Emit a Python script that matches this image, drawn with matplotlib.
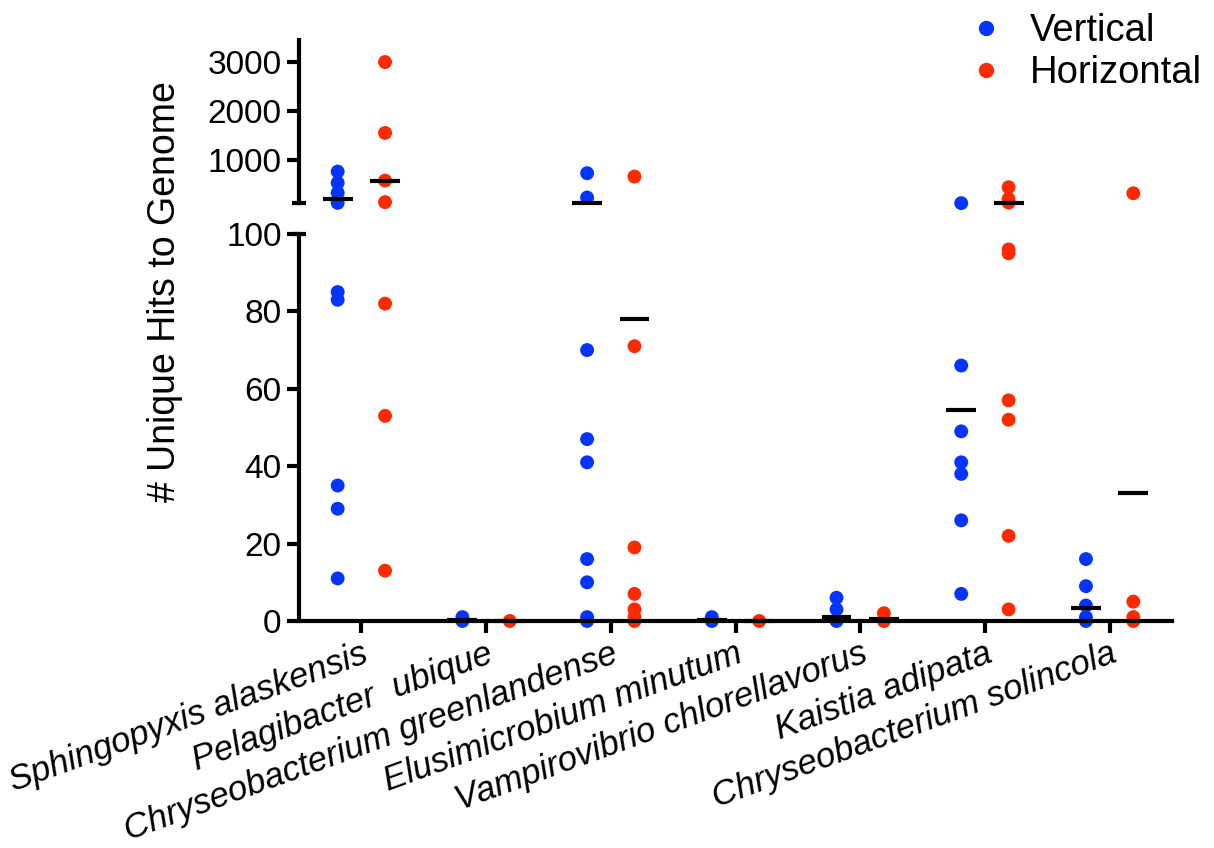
import matplotlib.pyplot as plt
from matplotlib.lines import Line2D

plt.rcParams['font.family'] = ['Liberation Sans', 'DejaVu Sans']

# data
categories = ['Sphingopyxis alaskensis', 'Pelagibacter  ubique', 'Chryseobacterium greenlandense',
              'Elusimicrobium minutum', 'Vampirovibrio chlorellavorus', 'Kaistia adipata',
              'Chryseobacterium solincola']

vertical = [
    [760, 530, 325, 120, 85, 83, 35, 29, 11],
    [1, 0],
    [727, 229, 70, 47, 41, 16, 10, 1, 0],
    [1, 0],
    [6, 3, 0],
    [114, 66, 49, 41, 38, 26, 7],
    [16, 9, 4, 1, 0],
]
horizontal = [
    [3000, 1550, 576, 135, 82, 53, 13],
    [0],
    [658, 71, 19, 7, 3, 1, 0],
    [0],
    [2, 0],
    [440, 200, 125, 96, 95, 57, 52, 22, 3],
    [316, 5, 1, 0],
]
vertical_mean = [208, 0.3, 120, 0.3, 1, 54.5, 3.3]
horizontal_mean = [572, 0, 78, 0, 0.5, 118, 33]

blue = '#0534FF'
red = '#FF2A00'
split = 101

fig = plt.figure(figsize=(12.14, 8.48), dpi=100)
ax_top = fig.add_axes([0.2463, 0.7603, 0.7191, 0.1925])
ax_bot = fig.add_axes([0.2463, 0.2677, 0.7191, 0.4564])

for ax in (ax_top, ax_bot):
    ax.spines['top'].set_visible(False)
    ax.spines['right'].set_visible(False)
    ax.spines['left'].set_linewidth(3)
    ax.spines['bottom'].set_linewidth(3)
    ax.set_xlim(-0.5, 6.5)
    ax.tick_params(axis='both', width=3, length=8.5, labelsize=24, pad=4)

ax_top.spines['bottom'].set_visible(False)
ax_top.tick_params(bottom=False, labelbottom=False)
ax_top.set_ylim(112, 3450)
ax_top.set_yticks([1000, 2000, 3000])

ax_bot.set_ylim(0, 100)
ax_bot.set_yticks([0, 20, 40, 60, 80, 100])
ax_bot.set_xticks(range(len(categories)))
ax_bot.set_xticklabels(categories, rotation=20, ha='right', rotation_mode='anchor',
                       style='italic', fontsize=25)
ax_bot.tick_params(axis='x', pad=3)

# break caps
cap = 0.06
ax_top.plot([-0.5 - cap, -0.5 + cap], [112, 112], color='black', lw=3, clip_on=False,
            solid_capstyle='butt')
ax_bot.plot([-0.5 - cap, -0.5 + cap], [100, 100], color='black', lw=3, clip_on=False,
            solid_capstyle='butt')

off = 0.19
for i in range(len(categories)):
    for vals, m, dx, col in ((vertical[i], vertical_mean[i], -off, blue),
                             (horizontal[i], horizontal_mean[i], off, red)):
        x = i + dx
        lo = [v for v in vals if v < split]
        hi = [v for v in vals if v >= split]
        if lo:
            ax_bot.scatter([x] * len(lo), lo, s=100, color=col, edgecolors='none',
                           clip_on=False, zorder=2)
        if hi:
            ax_top.scatter([x] * len(hi), hi, s=100, color=col, edgecolors='none',
                           clip_on=False, zorder=2)
        ax_m = ax_top if m >= split else ax_bot
        ax_m.plot([x - 0.12, x + 0.12], [m, m], color='black', lw=3, clip_on=False,
                  zorder=3, solid_capstyle='butt')

fig.text(0.136, 0.656, '# Unique Hits to Genome', rotation=90, fontsize=27,
         ha='center', va='center')

handles = [Line2D([], [], marker='o', ls='none', color=blue, markersize=10, label='Vertical'),
           Line2D([], [], marker='o', ls='none', color=red, markersize=10, label='Horizontal')]
fig.legend(handles=handles, loc='upper right', bbox_to_anchor=(1.012, 1.016), frameon=False,
           fontsize=27.5, handletextpad=0.15, labelspacing=0.15, borderaxespad=0.3)

fig.savefig('out.png', dpi=100)
